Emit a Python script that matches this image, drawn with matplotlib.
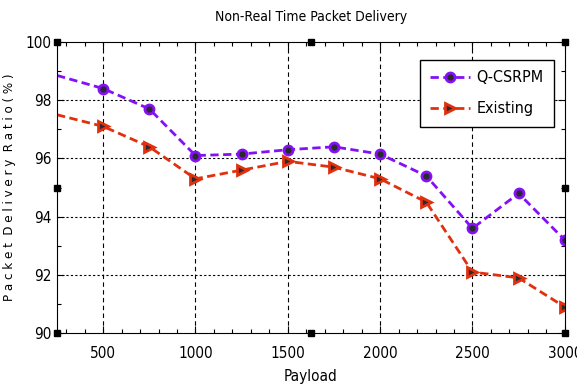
import matplotlib
matplotlib.use("Agg")
import matplotlib.pyplot as plt
from matplotlib.ticker import MultipleLocator

plt.rcParams['font.family'] = ['DejaVu Sans']
plt.rcParams['font.stretch'] = 'condensed'

payload = [250, 500, 750, 1000, 1250, 1500, 1750, 2000, 2250, 2500, 2750, 3000]
q_csrpm = [98.85, 98.4, 97.7, 96.1, 96.15, 96.3, 96.4, 96.15, 95.4, 93.6, 94.8, 93.2]
existing = [97.5, 97.1, 96.4, 95.3, 95.6, 95.9, 95.7, 95.3, 94.5, 92.1, 91.9, 90.9]
series_names = ["Q-CSRPM", "Existing"]
x_ticks = [500, 1000, 1500, 2000, 2500, 3000]
y_ticks = [90, 92, 94, 96, 98, 100]

fig = plt.figure(figsize=(5.77, 3.92), dpi=100)
ax = fig.add_axes([0.0988, 0.150, 0.880, 0.743])

purple = '#8510f5'
red = '#e0300e'
mk_idx = list(range(1, len(payload)))
ax.plot(payload, q_csrpm, linestyle=(0, (3, 1.6)), color=purple, lw=2.0,
        marker='o', ms=6.5, markerfacecolor='#2a2a2a', markeredgecolor=purple,
        markeredgewidth=2.0, markevery=mk_idx, label=series_names[0])
ax.plot(payload, existing, linestyle=(0, (3, 1.6)), color=red, lw=2.0,
        marker='>', ms=7.5, markerfacecolor='#2a2a2a', markeredgecolor=red,
        markeredgewidth=2.0, markevery=mk_idx, label=series_names[1])

ax.set_xlim(250, 3000)
ax.set_ylim(90, 100)
ax.set_xticks(x_ticks)
ax.set_yticks(y_ticks)
ax.xaxis.set_minor_locator(MultipleLocator(100))
ax.yaxis.set_minor_locator(MultipleLocator(1))
ax.tick_params(which='both', direction='in', top=True, right=True, labelsize=11)
ax.tick_params(axis='x', which='major', pad=9)
ax.tick_params(axis='y', which='major', pad=4)
ax.tick_params(which='major', length=5, width=0.8)
ax.tick_params(which='minor', length=3, width=0.8)

for xv in x_ticks[:-1]:
    ax.axvline(xv, color='black', lw=0.8, linestyle=(0, (4, 3)), zorder=0)
for yv in y_ticks[1:-1]:
    ax.axhline(yv, color='black', lw=0.8, linestyle=(0, (2, 2)), zorder=0)

hx = [250, 1625, 3000, 250, 3000, 250, 1625, 3000]
hy = [100, 100, 100, 95, 95, 90, 90, 90]
ax.plot(hx, hy, linestyle='none', marker='s', ms=5, color='black', clip_on=False, zorder=5)

ax.set_title('Non-Real Time Packet Delivery', fontsize=10, pad=15)
ax.set_xlabel('Payload', fontsize=11, labelpad=6)
ax.set_ylabel('P a c k e t  D e l i v e r y  R a t i o ( % )', fontsize=9.5, labelpad=7)

leg = ax.legend(loc='upper right', bbox_to_anchor=(0.979, 0.938), fontsize=11.5,
                fancybox=False, edgecolor='black', framealpha=1, handlelength=2.5,
                handletextpad=0.4, borderpad=0.65, labelspacing=1.0, borderaxespad=0)
leg.get_frame().set_linewidth(1.0)

fig.savefig('out.png', dpi=100)
